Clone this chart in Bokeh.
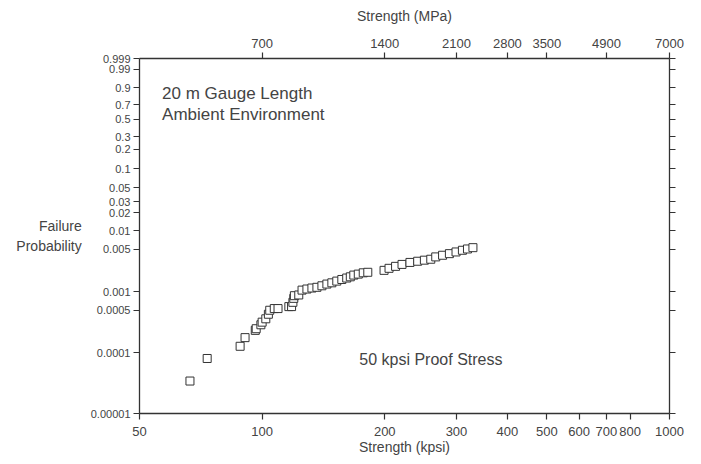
import numpy as np
from bokeh.plotting import figure
from bokeh.models import (LogAxis, LinearAxis, FixedTicker, Label, NumeralTickFormatter,
                          CustomJSTickFormatter, Range1d)
from bokeh.embed import file_html
from bokeh.resources import INLINE

# ---- data ----
strength_kpsi = [66.5, 73.3, 88.3, 90.8, 96.2, 96.7, 99.3, 100.0, 102.1, 103.6, 104.4, 107.1,
                 109.4, 116.3, 118.1, 119.0, 119.6, 120.0, 123.0, 125.3, 128.8, 132.5, 136.3,
                 140.2, 144.2, 148.3, 152.5, 156.9, 161.3, 164.6, 167.9, 172.2, 177.1, 181.7,
                 199.2, 204.9, 212.6, 220.5, 230.6, 240.9, 250.2, 259.4, 266.8, 277.3, 288.2,
                 299.2, 310.2, 319.2, 329.2]
failure_prob = [3.42e-5, 8.03e-5, 1.275e-4, 1.77e-4, 2.33e-4, 2.48e-4, 2.88e-4, 3.18e-4, 3.61e-4,
                4.29e-4, 4.99e-4, 5.32e-4, 5.32e-4, 5.73e-4, 5.73e-4, 6.74e-4, 7.83e-4, 8.66e-4,
                8.90e-4, 1.07e-3, 1.115e-3, 1.158e-3, 1.19e-3, 1.26e-3, 1.345e-3, 1.41e-3,
                1.505e-3, 1.60e-3, 1.69e-3, 1.77e-3, 1.89e-3, 1.96e-3, 2.06e-3, 2.10e-3,
                2.26e-3, 2.44e-3, 2.63e-3, 2.83e-3, 3.05e-3, 3.19e-3, 3.32e-3, 3.44e-3, 3.76e-3,
                4.00e-3, 4.25e-3, 4.53e-3, 4.83e-3, 5.07e-3, 5.33e-3]

prob_ticks = [0.00001, 0.0001, 0.0005, 0.001, 0.005, 0.01, 0.02, 0.03, 0.05, 0.1, 0.2, 0.3,
              0.5, 0.7, 0.9, 0.99, 0.999]
prob_labels = ["0.00001", "0.0001", "0.0005", "0.001", "0.005", "0.01", "0.02", "0.03", "0.05",
               "0.1", "0.2", "0.3", "0.5", "0.7", "0.9", "0.99", "0.999"]
kpsi_ticks = [50, 100, 200, 300, 400, 500, 600, 700, 800, 1000]
mpa_ticks = [700, 1400, 2100, 2800, 3500, 4900, 7000]
mpa_per_kpsi = 7.0  # conversion used by the chart's top axis

def weibull(F):
    return np.log(-np.log1p(-np.asarray(F, dtype=float)))

FONT = "Liberation Sans"
LINE = "#333333"
TXT = "#444444"

y_tick_pos = [float(v) for v in weibull(prob_ticks)]
overrides_y = {pos: lab for pos, lab in zip(y_tick_pos, prob_labels)}

p = figure(width=701, height=464, x_axis_type="log",
           x_range=Range1d(50, 1000),
           y_range=Range1d(float(weibull(1e-5)), float(weibull(0.999))),
           output_backend="svg", toolbar_location=None,
           min_border_left=139, min_border_right=32, min_border_top=58, min_border_bottom=51)
p.grid.visible = False
p.outline_line_color = None
p.background_fill_color = "white"

def style_axis(ax, label_size):
    ax.axis_line_color = LINE
    ax.axis_line_width = 1.3
    ax.major_tick_line_color = LINE
    ax.major_tick_line_width = 1.2
    ax.major_tick_out = 6
    ax.major_tick_in = 0
    ax.minor_tick_line_color = None
    ax.major_label_text_font = FONT
    ax.major_label_text_font_size = label_size
    ax.major_label_text_color = TXT
    ax.axis_label_text_font = FONT
    ax.axis_label_text_font_size = "14px"
    ax.axis_label_text_font_style = "normal"
    ax.axis_label_text_color = TXT

# bottom axis (kpsi)
xb = p.xaxis[0]
xb.ticker = FixedTicker(ticks=kpsi_ticks)
xb.formatter = NumeralTickFormatter(format="0")
xb.axis_label = "Strength (kpsi)"
style_axis(xb, "13px")
xb.major_label_standoff = 7
xb.axis_label_standoff = 0

# top axis (MPa)
top_pos = [m / mpa_per_kpsi for m in mpa_ticks]
xt = LogAxis(ticker=FixedTicker(ticks=top_pos),
             major_label_overrides={pos: str(m) for pos, m in zip(top_pos, mpa_ticks)},
             axis_label="Strength (MPa)")
style_axis(xt, "13px")
xt.major_label_standoff = 5
xt.axis_label_standoff = 12
p.add_layout(xt, "above")

# left axis (Weibull probability)
yl = p.yaxis[0]
yl.ticker = FixedTicker(ticks=y_tick_pos)
yl.major_label_overrides = overrides_y
style_axis(yl, "11px")
yl.major_label_standoff = 3
yl.axis_label = "Failure\nProbability"
yl.axis_label_standoff = 6
if "axis_label_orientation" in yl.properties():
    yl.axis_label_orientation = "horizontal"
yl.axis_label_text_align = "center"

# right axis, ticks only
yr = LinearAxis(ticker=FixedTicker(ticks=y_tick_pos),
                formatter=CustomJSTickFormatter(code="return ''"))
style_axis(yr, "11px")
p.add_layout(yr, "right")

# data
p.scatter(strength_kpsi, weibull(failure_prob), marker="square", size=8,
          fill_color="white", line_color=LINE, line_width=1)

# annotations
def add_text(x, F, text, size, align="left"):
    p.add_layout(Label(x=x, y=float(weibull(F)), text=text, text_font=FONT,
                       text_font_size=size, text_color=TXT, text_align=align,
                       text_baseline="alphabetic"))

add_text(56.8, 1 - np.exp(-np.exp(0.619)), "20 m Gauge Length", "17px")
add_text(56.8, 1 - np.exp(-np.exp(-0.197)), "Ambient Environment", "17px")
add_text(173.2, 1 - np.exp(-np.exp(-9.457)), "50 kpsi Proof Stress", "16px")

open("out.html", "w").write(file_html(p, INLINE))
